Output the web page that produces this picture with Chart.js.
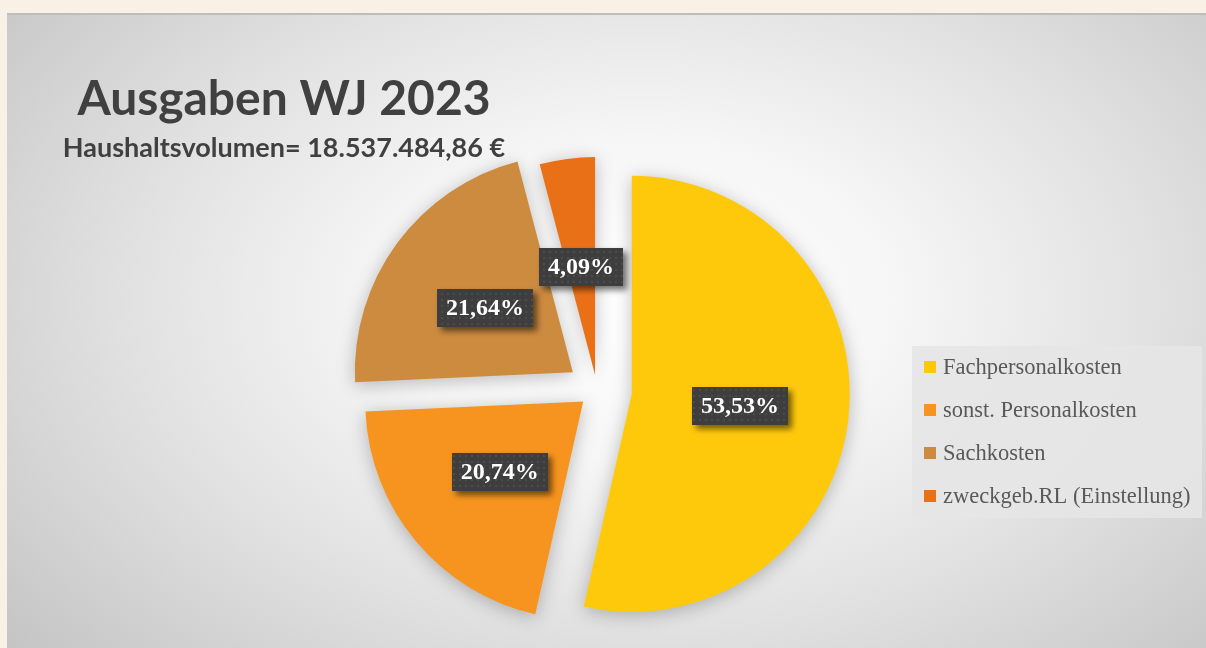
<!DOCTYPE html>
<html lang="de">
<head>
<meta charset="UTF-8">
<title>Ausgaben WJ 2023</title>
<script src="https://cdn.jsdelivr.net/npm/chart.js"></script>
<style>
  html, body { margin: 0; padding: 0; }
  body {
    background: #faf1e6;
    width: 1206px;
    height: 648px;
    overflow: hidden;
    position: relative;
  }
  #panel {
    position: absolute;
    left: 7px;
    top: 13px;
    width: 1199px;
    height: 633px;
    border-top: 2px solid #bdbdbd;
    background: radial-gradient(ellipse 70% 85% at 53% 45%, #ffffff 0%, #f6f6f6 30%, #e2e2e2 60%, #c4c4c4 100%);
  }
</style>
</head>
<body>
<div id="panel"><canvas id="pie"></canvas></div>

<script>
const labels = ["Fachpersonalkosten", "sonst. Personalkosten", "Sachkosten", "zweckgeb.RL (Einstellung)"];
const shares = [53.53, 20.74, 21.64, 4.09];
const titleText = "Ausgaben WJ 2023";
const subtitleText = "Haushaltsvolumen= 18.537.484,86 €";

const colors = ["#ffc90b", "#f7941f", "#cd8b3f", "#ea7018"];
const explode = [35, 18, 30, 15]; // px each slice is pulled out

// dotted texture for the value boxes
const dots = document.createElement("canvas");
dots.width = 6; dots.height = 6;
const dc = dots.getContext("2d");
dc.fillStyle = "#3e3e3e"; dc.fillRect(0, 0, 6, 6);
dc.fillStyle = "#4c4c4c"; dc.fillRect(2, 2, 2, 2);

const explodePlugin = {
  id: "explode",
  afterDatasetUpdate(chart, args) {
    args.meta.data.forEach((arc, i) => {
      const mid = (arc.startAngle + arc.endAngle) / 2;
      arc.x += Math.cos(mid) * explode[i];
      arc.y += Math.sin(mid) * explode[i];
    });
  },
  beforeDatasetsDraw(chart) {
    const c = chart.ctx;
    c.save();
    c.shadowColor = "rgba(0,0,0,0.25)";
    c.shadowBlur = 18;
    c.shadowOffsetY = 3;
  },
  afterDatasetsDraw(chart) {
    const c = chart.ctx;
    c.restore();
    const pattern = c.createPattern(dots, "repeat");
    const meta = chart.getDatasetMeta(0);
    c.save();
    c.font = "bold 24px 'Liberation Serif', serif";
    c.textAlign = "center";
    c.textBaseline = "middle";
    meta.data.forEach((arc, i) => {
      const mid = (arc.startAngle + arc.endAngle) / 2;
      const x = arc.x + Math.cos(mid) * arc.outerRadius * 0.5;
      const y = arc.y + Math.sin(mid) * arc.outerRadius * 0.5;
      const txt = shares[i].toFixed(2).replace(".", ",") + "%";
      const w = c.measureText(txt).width + 18;
      const h = 38;
      c.save();
      c.shadowColor = "rgba(0,0,0,0.55)";
      c.shadowBlur = 6;
      c.shadowOffsetX = 4;
      c.shadowOffsetY = 4;
      c.fillStyle = pattern;
      c.fillRect(Math.round(x - w / 2), Math.round(y - h / 2), Math.round(w), h);
      c.restore();
      c.fillStyle = "#ffffff";
      c.fillText(txt, x, y + 1);
    });
    c.restore();
  },
  afterDraw(chart) {
    const c = chart.ctx;
    c.save();
    // title block
    c.fillStyle = "#404040";
    c.textAlign = "center";
    c.textBaseline = "alphabetic";
    c.font = "bold 48px Lato, sans-serif";
    c.fillText(titleText, 277, 100);
    c.font = "bold 27px Lato, sans-serif";
    c.fillText(subtitleText, 277, 142);

    // legend
    c.fillStyle = "rgba(230,230,230,0.9)";
    c.fillRect(905, 331, 290, 172);
    c.font = "22.5px 'Liberation Serif', serif";
    c.textAlign = "left";
    c.textBaseline = "middle";
    labels.forEach((lab, i) => {
      const y = 352 + i * 43;
      c.fillStyle = colors[i];
      c.fillRect(917, y - 6, 12, 12);
      c.fillStyle = "#595959";
      c.fillText(lab, 936, y + 1);
    });
    c.restore();
  }
};

new Chart(document.getElementById("pie"), {
  type: "pie",
  data: {
    labels: labels,
    datasets: [{
      data: shares,
      backgroundColor: colors,
      borderWidth: 0
    }]
  },
  options: {
    responsive: true,
    maintainAspectRatio: false,
    animation: false,
    events: [],
    radius: 218,
    layout: { padding: { left: 0, right: 19, top: 117, bottom: 0 } },
    plugins: {
      legend: { display: false },
      tooltip: { enabled: false }
    }
  },
  plugins: [explodePlugin]
});
</script>
</body>
</html>
